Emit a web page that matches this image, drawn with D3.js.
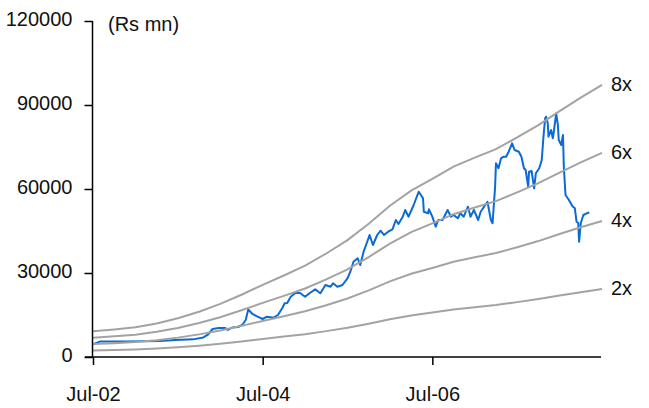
<!DOCTYPE html>
<html>
<head>
<meta charset="utf-8">
<script src="https://cdn.jsdelivr.net/npm/d3@7"></script>
<style>
  html, body { margin: 0; padding: 0; background: #fff; }
  svg { display: block; }
  text { font-family: "Liberation Sans Narrow", "Arial Narrow", "Liberation Sans", Arial, sans-serif; fill: #111; }
</style>
</head>
<body>
<svg id="chart" width="649" height="408"></svg>
<script>
// ---- Data ----
// Trailing earnings (Rs mn) used for the P/E bands, read quarterly (decimal years)
const bandDates = [2002.50, 2002.75, 2003.00, 2003.25, 2003.50, 2003.75, 2004.00, 2004.25, 2004.50,
  2004.75, 2005.00, 2005.25, 2005.50, 2005.75, 2006.00, 2006.25, 2006.50, 2006.75, 2007.00,
  2007.25, 2007.50, 2007.75, 2008.00, 2008.25, 2008.50];
const earnings = [1150, 1230, 1330, 1500, 1730, 2020, 2370, 2780, 3220,
  3640, 4080, 4620, 5220, 5950, 6750, 7430, 7950, 8500, 8900,
  9280, 9800, 10350, 10980, 11580, 12150];
const multiples = [2, 4, 6, 8];
const bandLabels = ["2x", "4x", "6x", "8x"];

// Market capitalisation (Rs mn)
const mcapDates = [2002.50, 2002.58, 2002.89, 2003.29, 2003.47, 2003.68, 2003.80, 2003.85, 2003.91, 2003.98,
  2004.06, 2004.09, 2004.14, 2004.21, 2004.26, 2004.30, 2004.33, 2004.38, 2004.44, 2004.50,
  2004.55, 2004.63, 2004.68, 2004.73, 2004.76, 2004.79, 2004.83, 2004.89, 2004.94, 2005.00,
  2005.06, 2005.12, 2005.18, 2005.24, 2005.30, 2005.33, 2005.38, 2005.44, 2005.50, 2005.54,
  2005.57, 2005.62, 2005.65, 2005.69, 2005.74, 2005.76, 2005.80, 2005.85, 2005.89, 2005.93,
  2005.98, 2006.03, 2006.07, 2006.10, 2006.15, 2006.18, 2006.22, 2006.28, 2006.34, 2006.39,
  2006.40, 2006.45, 2006.46, 2006.50, 2006.54, 2006.57, 2006.62, 2006.68, 2006.72, 2006.75,
  2006.80, 2006.83, 2006.87, 2006.92, 2006.95, 2006.99, 2007.04, 2007.07, 2007.11, 2007.15,
  2007.19, 2007.21, 2007.24, 2007.25, 2007.28, 2007.31, 2007.34, 2007.37, 2007.40, 2007.44,
  2007.47, 2007.52, 2007.55, 2007.58, 2007.60, 2007.63, 2007.64, 2007.67, 2007.70, 2007.72,
  2007.76, 2007.79, 2007.81, 2007.83, 2007.84, 2007.86, 2007.87, 2007.90, 2007.92, 2007.93,
  2007.96, 2007.98, 2007.99, 2008.02, 2008.04, 2008.05, 2008.07, 2008.11, 2008.15, 2008.18,
  2008.20, 2008.22, 2008.23, 2008.25, 2008.28, 2008.32, 2008.35];
const mcapValues = [4600, 5500, 5500, 5700, 6070, 6300, 7000, 7860, 10000, 10360,
  10360, 9640, 10540, 10710, 11430, 13210, 16960, 15360, 14390, 13570,
  14390, 14040, 15000, 17390, 19180, 19290, 21540, 22960, 22860, 21540,
  22960, 24180, 22750, 25710, 25110, 26320, 25110, 25710, 28110, 31070,
  34040, 35250, 32860, 37610, 41790, 43570, 40000, 43570, 45110, 43570,
  44750, 45610, 48930, 47500, 50000, 52500, 50110, 54290, 59040, 56680,
  51890, 51320, 52750, 50110, 46540, 48930, 48930, 52500, 50110, 50710,
  49540, 51320, 50110, 53680, 50110, 52500, 48930, 51890, 53680, 55460,
  48930, 47750, 60820, 69180, 67390, 70960, 71540, 71540, 73320, 76320,
  73930, 73320, 71540, 67390, 66790, 60820, 66180, 66430, 60250, 65610,
  67390, 70360, 78680, 85250, 85820, 83570, 78680, 81070, 78110, 80000,
  87000, 82860, 77500, 75710, 79290, 67960, 57860, 56070, 53930, 53110,
  48320, 47860, 41180, 47750, 50710, 51320, 51610];

const yTicks = [0, 30000, 60000, 90000, 120000];
const xTickValues = [2002.5, 2004.5, 2006.5];
const xTickLabels = ["Jul-02", "Jul-04", "Jul-06"];
const unitLabel = "(Rs mn)";

// ---- Chart ----
const svg = d3.select("#chart");
const x = d3.scaleLinear().domain([2002.5, 2008.5]).range([93, 602]);
const y = d3.scaleLinear().domain([0, 120000]).range([357, 21]);
const FS = 20;

// Market cap line
const mcap = mcapDates.map((d, i) => ({ x: d, v: mcapValues[i] }));
svg.append("path")
  .datum(mcap)
  .attr("fill", "none")
  .attr("stroke", "#0a6ad6")
  .attr("stroke-width", 2)
  .attr("stroke-linejoin", "round")
  .attr("d", d3.line().x(d => x(d.x)).y(d => y(d.v)));

// P/E bands
const bandLine = d3.line().x(d => x(d.x)).y(d => y(d.v));
multiples.forEach((m, k) => {
  const pts = bandDates.map((d, i) => ({ x: d, v: earnings[i] * m }));
  svg.append("path")
    .datum(pts)
    .attr("fill", "none")
    .attr("stroke", "#a3a3a3")
    .attr("stroke-width", 2)
    .attr("d", bandLine);
  const last = pts[pts.length - 1];
  svg.append("text")
    .attr("x", x(last.x) + 9)
    .attr("y", y(last.v) - 1)
    .attr("font-size", FS)
    .attr("dominant-baseline", "central")
    .text(bandLabels[k]);
});

// Y axis
const yAxis = d3.axisLeft(y).tickValues(yTicks).tickFormat(d3.format("d"))
  .tickSize(8).tickSizeOuter(0).tickPadding(12);
const gy = svg.append("g").attr("transform", "translate(92.5,0)").call(yAxis);
gy.select(".domain").remove();
gy.selectAll(".tick line").attr("stroke", "#000").attr("stroke-width", 1.5);
gy.selectAll(".tick text").attr("font-size", FS).attr("font-family", null).attr("fill", "#111").attr("dy", "0.22em");
svg.append("line").attr("x1", 92.5).attr("x2", 92.5).attr("y1", y(120000)).attr("y2", y(0))
  .attr("stroke", "#000").attr("stroke-width", 1.5);

// X axis
const xAxis = d3.axisBottom(x).tickValues(xTickValues).tickFormat((d, i) => xTickLabels[i])
  .tickSize(8).tickSizeOuter(0).tickPadding(22);
const gx = svg.append("g").attr("transform", `translate(0,${y(0)})`).call(xAxis);
gx.select(".domain").remove();
gx.selectAll(".tick line").attr("stroke", "#000").attr("stroke-width", 1.5);
gx.selectAll(".tick text").attr("font-size", FS).attr("font-family", null).attr("fill", "#111");
svg.append("line").attr("x1", 85).attr("x2", 601).attr("y1", y(0)).attr("y2", y(0))
  .attr("stroke", "#000").attr("stroke-width", 1.5);

// Unit label
svg.append("text").attr("x", 108).attr("y", 31).attr("font-size", FS).text(unitLabel);
</script>
</body>
</html>
